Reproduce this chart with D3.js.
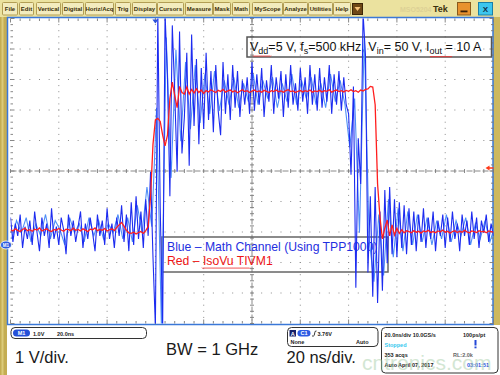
<!DOCTYPE html>
<html>
<meta charset="utf-8">
<style>
body { margin: 0; background: #fff; }
svg { display: block; font-family: "Liberation Sans", Arial, sans-serif; }
.menu text { font-size: 6px; font-weight: bold; fill: #3b2f08; text-anchor: middle; }
.info text { font-size: 5.5px; font-weight: bold; fill: #222; }
.big { font-size: 16.5px; fill: #1a1a1a; }
</style>
<body>
<svg id="scope" width="500" height="375"></svg>
<script src="https://d3js.org/d3.v7.min.js"></script>
<script>
// scope settings
var nsPerDiv = 20, voltsPerDiv = 1;
var groundDiv = 2.574;          // M1 ground marker, divisions above the bottom
var sampleNs = 1;               // record spacing of M1 (dark) and IsoVu
var lightStartNs = 0.5, lightStepNs = 2;
var trigPosNs = 60;
var trigLevelDiv = 5.1;

// IsoVu TIVM1 (red), volts, one sample per ns
var isoVu = [0.50,0.46,0.53,0.48,0.44,0.51,0.55,0.47,0.50,0.45,
  0.52,0.49,0.56,0.46,0.50,0.53,0.47,0.44,0.51,0.48,
  0.54,0.49,0.45,0.52,0.50,0.47,0.55,0.48,0.51,0.46,
  0.53,0.49,0.44,0.52,0.50,0.56,0.47,0.51,0.48,0.54,
  0.46,0.50,0.53,0.47,0.58,0.66,0.74,0.62,0.48,0.40,
  0.38,0.42,0.36,0.41,0.44,0.38,0.47,0.60,1.60,3.30,
  4.10,4.15,4.05,3.60,3.25,3.60,4.80,5.34,4.90,4.50,
  5.20,5.00,4.95,5.18,4.95,5.10,4.98,5.12,5.00,5.08,
  4.97,5.06,5.02,5.09,5.04,5.00,5.07,5.03,5.10,5.01,
  5.05,5.08,5.02,5.06,4.99,5.04,5.09,5.03,5.06,5.00,
  5.05,5.08,5.02,5.05,5.01,5.07,5.04,5.00,5.06,5.03,
  5.08,5.02,5.05,5.01,5.06,5.09,5.03,5.05,5.00,5.04,
  5.07,5.02,5.06,5.03,5.08,5.01,5.05,5.03,5.07,5.02,
  5.06,5.04,5.09,5.01,5.05,5.08,5.03,5.06,5.02,5.07,
  5.04,5.09,5.03,5.06,5.01,5.08,5.05,5.10,5.12,5.20,
  5.18,4.60,2.00,0.90,0.20,0.55,0.82,0.30,0.66,0.33,
  0.55,0.38,0.50,0.40,0.47,0.44,0.40,0.47,0.42,0.45,
  0.39,0.46,0.43,0.48,0.41,0.44,0.40,0.46,0.43,0.49,
  0.42,0.45,0.39,0.44,0.47,0.41,0.45,0.42,0.48,0.43,
  0.40,0.46,0.44,0.41,0.47,0.43,0.45,0.40,0.46,0.44,
  0.42];

// Math channel M1 (blue), volts, one sample per ns
var mathDark = [0.9,0.1,0.7,0.3,1.0,-0.1,0.6,0.2,0.8,0.0,
  1.1,0.4,-0.2,0.9,0.3,0.7,-0.1,1.2,0.2,0.6,
  0.0,0.9,0.5,-0.3,1.0,0.3,0.8,0.1,0.6,1.1,
  -0.1,0.7,0.2,0.9,0.4,-0.2,1.0,0.3,0.8,0.0,
  1.2,0.2,0.7,-0.1,0.9,0.3,1.3,0.1,1.0,-0.2,
  1.4,0.0,1.6,0.2,1.1,-0.1,1.5,0.3,2.4,-0.4,
  -2.7,7.6,1.2,-2.7,7.6,5.5,1.6,7.2,5.0,2.4,
  7.0,3.0,4.2,6.3,2.6,6.9,3.9,6.1,3.3,5.8,
  3.8,6.3,4.1,5.7,3.7,5.9,4.4,3.6,6.0,4.3,
  5.6,4.1,5.9,4.5,5.7,4.2,5.4,4.6,5.5,4.3,
  6.0,4.4,5.6,4.6,5.8,4.2,5.4,4.7,5.9,4.3,
  5.5,4.8,5.7,4.2,5.6,4.5,5.9,4.6,5.3,4.4,
  5.8,4.7,5.5,4.3,5.9,4.6,5.6,4.4,5.8,4.5,
  5.5,4.7,5.9,4.3,5.6,4.6,5.7,4.4,5.5,4.6,
  4.3,2.3,5.2,-1.4,3.5,2.0,7.6,6.2,-0.9,1.6,
  -1.7,1.9,-1.9,1.1,-1.5,1.8,-0.6,1.9,-0.3,1.5,
  -0.4,1.4,-0.1,1.3,-0.3,1.2,0.0,1.1,-0.2,1.0,
  0.1,1.2,-0.1,0.9,0.2,1.1,-0.2,0.8,0.3,1.0,
  -0.1,0.9,0.1,1.1,0.2,0.7,-0.2,1.0,0.3,0.8,
  0.0,1.1,0.2,0.9,-0.1,0.8,0.4,1.0,0.1,0.7,
  0.3];

// second M1 acquisition (light blue), volts, one sample per 2 ns
var mathLight = [0.2,0.8,0.4,0.9,0.1,0.7,0.3,1.0,0.2,0.8,
  0.5,0.0,0.9,0.4,0.7,0.1,0.9,0.3,0.8,0.2,
  0.7,0.4,1.0,0.2,0.9,0.1,1.3,0.4,1.9,0.6,
  4.5,-2.7,6.8,2.2,6.4,3.4,6.0,3.8,5.9,4.0,
  5.6,4.3,5.7,4.4,5.4,4.6,5.5,4.5,5.3,4.7,
  5.6,4.6,5.4,4.8,5.5,4.5,5.3,4.7,5.6,4.6,
  5.4,4.8,5.5,4.6,5.3,4.5,5.6,4.7,5.4,4.6,
  3.2,4.8,0.4,6.8,0.2,-1.2,1.0,-1.0,1.5,-0.4,
  1.2,-0.2,1.1,0.0,1.0,0.1,0.9,0.0,0.8,0.2,
  1.0,0.1,0.8,0.3,0.9,0.0,0.7,0.2,0.8,0.1,
  0.6];

var menuLabels = ["File","Edit","Vertical","Digital","Horiz/Acq","Trig","Display","Cursors",
  "Measure","Mask","Math","MyScope","Analyze","Utilities","Help"];
var menuLeft  = [2,19,36,62,85,115,132,157,185,213,232,252,283,308,333];
var menuRight = [17,33,60,83,113,130,156,183,212,230,249,282,307,332,350];

var svg = d3.select("#scope");

var gx = d3.scaleLinear().domain([0, 10]).range([10.5, 493.5]);
var gy = d3.scaleLinear().domain([0, 10]).range([323.5, 18.5]);
var x = d3.scaleLinear().domain([0, 10 * nsPerDiv]).range(gx.range());
var y = d3.scaleLinear()
	.domain([-groundDiv * voltsPerDiv, (10 - groundDiv) * voltsPerDiv])
	.range(gy.range());

// window chrome
svg.append("rect").attr("width", 500).attr("height", 375).attr("fill", "#fff");
svg.append("rect").attr("width", 500).attr("height", 17.5).attr("fill", "#ebe29f");
svg.append("rect").attr("x", 0).attr("y", 17).attr("width", 7).attr("height", 358).attr("fill", "#c4ad52");
svg.append("rect").attr("x", 1.5).attr("y", 17).attr("width", 2).attr("height", 358).attr("fill", "#dccb7a");
svg.append("rect").attr("x", 493).attr("y", 17).attr("width", 7).attr("height", 308).attr("fill", "#cdb85e");

var menu = svg.append("g").attr("class", "menu");
menuLabels.forEach(function(m, i) {
	menu.append("rect")
		.attr("x", menuLeft[i] + 0.5).attr("y", 2.5)
		.attr("width", menuRight[i] - menuLeft[i]).attr("height", 12.5)
		.attr("rx", 1).attr("fill", "#f3ecbe").attr("stroke", "#b29e55");
	menu.append("text")
		.attr("x", (menuLeft[i] + menuRight[i]) / 2 + 0.5).attr("y", 11)
		.text(m);
});
svg.append("rect").attr("x", 352.5).attr("y", 3.5).attr("width", 10).attr("height", 11)
	.attr("fill", "#6e4816").attr("stroke", "#3d2708");
svg.append("path").attr("d", "M354.5,7 h6 l-3,4 z").attr("fill", "#f7c27a");
svg.append("text").attr("x", 400).attr("y", 11.5).attr("font-size", 7).attr("font-weight", "bold")
	.attr("fill", "#ddd196").text("MSO5204");
svg.append("text").attr("x", 433).attr("y", 12).attr("font-size", 9).attr("font-weight", "bold")
	.attr("fill", "#3a3010").text("Tek");
svg.append("rect").attr("x", 457.5).attr("y", 2.5).attr("width", 13).attr("height", 12.5)
	.attr("fill", "#e8922e").attr("stroke", "#8a5a1c");
svg.append("rect").attr("x", 460.5).attr("y", 10.5).attr("width", 7).attr("height", 1.8).attr("fill", "#3a2008");
svg.append("rect").attr("x", 478.5).attr("y", 2.5).attr("width", 14).attr("height", 12.5)
	.attr("fill", "#3cc6ee").attr("stroke", "#1a7fa8");
svg.append("text").attr("x", 485.5).attr("y", 12).attr("font-size", 8).attr("font-weight", "bold")
	.attr("text-anchor", "middle").attr("fill", "#10304a").text("X");

// graticule
var grat = svg.append("g");
grat.append("rect").attr("x", 7.5).attr("y", 17.5).attr("width", 485.5).attr("height", 307)
	.attr("fill", "#fff").attr("stroke", "#3a78d8").attr("stroke-width", 1.5);

var minor = d3.range(0, 10.001, 0.2);
var majors = [1, 2, 3, 4, 6, 7, 8, 9];
majors.forEach(function(k) {
	grat.selectAll(null).data(minor).enter().append("rect")
		.attr("x", gx(k) - 0.5).attr("y", function(d) { return gy(d) - 0.5; })
		.attr("width", 1).attr("height", 1).attr("fill", "#8c8c8c");
	grat.selectAll(null).data(minor).enter().append("rect")
		.attr("x", function(d) { return gx(d) - 0.5; }).attr("y", gy(k) - 0.5)
		.attr("width", 1).attr("height", 1).attr("fill", "#8c8c8c");
});
grat.append("line").attr("x1", gx(5)).attr("x2", gx(5)).attr("y1", gy(10)).attr("y2", gy(0))
	.attr("stroke", "#8a8a8a").attr("stroke-dasharray", "6,2");
grat.append("line").attr("x1", gx(0)).attr("x2", gx(10)).attr("y1", gy(5)).attr("y2", gy(5))
	.attr("stroke", "#8a8a8a").attr("stroke-dasharray", "6,2");

function tickLen(d) { return Math.abs(d - Math.round(d)) < 0.01 ? 4 : 2.5; }
grat.selectAll(null).data(minor).enter().append("path")
	.attr("d", function(d) {
		var xx = gx(d), yy = gy(d), c = tickLen(d);
		return "M" + xx + "," + gy(10) + "v" + c +
			"M" + xx + "," + gy(0) + "v" + (-c) +
			"M" + gx(0) + "," + yy + "h" + c +
			"M" + gx(10) + "," + yy + "h" + (-c) +
			"M" + xx + "," + (gy(5) - 2) + "v4" +
			"M" + (gx(5) - 2) + "," + yy + "h4";
	})
	.attr("stroke", "#7a7a7a").attr("stroke-width", 0.9).attr("fill", "none");

// annotation boxes
var noteA = svg.append("g");
noteA.append("rect").attr("x", 247).attr("y", 37).attr("width", 244.5).attr("height", 20)
	.attr("fill", "none").attr("stroke", "#555").attr("stroke-width", 1.5);
var ta = noteA.append("text").attr("x", 250).attr("y", 50.7).attr("font-size", 12.5).attr("fill", "#111");
[["V", 0], ["dd", 1], ["=5 V, f", -1], ["s", 1], ["=500 kHz, V", -1], ["in", 1],
 ["= 50 V, I", -1], ["out", 1], [" = 10 A", -1]].forEach(function(p) {
	var t = ta.append("tspan").text(p[0]);
	if (p[1] === 1) t.attr("font-size", 9).attr("dy", 3);
	if (p[1] === -1) t.attr("dy", -3);
});

function squiggle(x0, x1, yb) {
	var p = "M" + x0 + "," + yb;
	for (var xx = x0; xx < x1; xx += 2) p += "l1,1.2l1,-1.2";
	return p;
}
[[253, 271, 55.5], [430, 452, 56], [202, 250, 267.5]].forEach(function(s) {
	svg.append("path").attr("d", squiggle(s[0], s[1], s[2]))
		.attr("stroke", "#e33").attr("stroke-width", 0.8).attr("fill", "none");
});

var noteB = svg.append("g");
noteB.append("rect").attr("x", 162).attr("y", 237).attr("width", 226).attr("height", 35)
	.attr("fill", "none").attr("stroke", "#666").attr("stroke-width", 1.5);
noteB.append("text").attr("x", 167).attr("y", 251).attr("font-size", 12.2).attr("fill", "#1f2fe0")
	.text("Blue \u2013 Math Channel (Using TPP1000)");
noteB.append("text").attr("x", 167).attr("y", 265).attr("font-size", 12.2).attr("fill", "#ee1515")
	.text("Red \u2013 IsoVu TIVM1");

// traces
svg.append("clipPath").attr("id", "clip").append("rect")
	.attr("x", gx(0)).attr("y", gy(10)).attr("width", gx(10) - gx(0)).attr("height", gy(0) - gy(10));
var traces = svg.append("g").attr("clip-path", "url(#clip)").attr("fill", "none");

var lineFixed = d3.line().x(function(d, i) { return x(i * sampleNs); }).y(function(d) { return y(d); });
var lineLight = d3.line().x(function(d, i) { return x(lightStartNs + i * lightStepNs); }).y(function(d) { return y(d); });

traces.append("path").datum(mathLight).attr("d", lineLight)
	.attr("stroke", "#4f8ff7").attr("stroke-width", 1.1);
traces.append("path").datum(mathDark).attr("d", lineFixed)
	.attr("stroke", "#1d2cf0").attr("stroke-width", 1.1);
traces.append("path").datum(isoVu).attr("d", lineFixed)
	.attr("stroke", "#ff1e1e").attr("stroke-width", 1.3);

// markers
svg.append("path").attr("d", "M" + (x(trigPosNs) - 3) + "," + (gy(10) + 1) + "h6l-3,4z").attr("fill", "#2a50d8");
svg.append("path").attr("d", "M" + (gx(10) - 8) + "," + gy(trigLevelDiv) + "l4,-2.5v1.7h4v1.6h-4v1.7z").attr("fill", "#ff3a1a");
svg.append("ellipse").attr("cx", 6).attr("cy", y(0)).attr("rx", 5.5).attr("ry", 4)
	.attr("fill", "#2a5be0").attr("stroke", "#fff").attr("stroke-width", 0.8);
svg.append("text").attr("x", 6).attr("y", y(0) + 1.6).attr("font-size", 4.5).attr("font-weight", "bold")
	.attr("text-anchor", "middle").attr("fill", "#fff").text("M1");

// bottom readouts
var info = svg.append("g").attr("class", "info");
info.append("rect").attr("x", 11).attr("y", 327.5).attr("width", 135.5).attr("height", 11).attr("rx", 4)
	.attr("fill", "#fff").attr("stroke", "#333");
info.append("rect").attr("x", 13).attr("y", 329.5).attr("width", 17).attr("height", 7).attr("rx", 3.5).attr("fill", "#2550d8");
info.append("text").attr("x", 21.5).attr("y", 335).attr("text-anchor", "middle").style("fill", "#fff").text("M1");
info.append("text").attr("x", 33).attr("y", 335.5).text("1.0V");
info.append("text").attr("x", 57).attr("y", 335.5).text("20.0ns");

info.append("rect").attr("x", 287.5).attr("y", 327.5).attr("width", 90.5).attr("height", 19).attr("rx", 4)
	.attr("fill", "#fff").attr("stroke", "#333");
info.append("rect").attr("x", 289.5).attr("y", 330).attr("width", 6.5).attr("height", 6.5).attr("fill", "#16206a");
info.append("text").attr("x", 290.8).attr("y", 335.5).style("fill", "#fff").text("A");
info.append("rect").attr("x", 297.5).attr("y", 330).attr("width", 13).attr("height", 6.5).attr("rx", 3.2).attr("fill", "#2d5be3");
info.append("text").attr("x", 300.5).attr("y", 335.3).style("fill", "#fff").text("C1");
info.append("path").attr("d", "M312,336 h1.5 q0.8,0 1,-2 t1,-3 h1").attr("stroke", "#222").attr("stroke-width", 0.9).attr("fill", "none");
info.append("text").attr("x", 317.5).attr("y", 335.5).text("3.76V");
info.append("text").attr("x", 290.5).attr("y", 344).text("None");
info.append("text").attr("x", 356).attr("y", 344).text("Auto");

info.append("rect").attr("x", 381.5).attr("y", 327.5).attr("width", 116.5).attr("height", 45.5).attr("rx", 4)
	.attr("fill", "#fff").attr("stroke", "#333");
info.append("text").attr("x", 384.5).attr("y", 336.5).text("20.0ns/div  10.0GS/s");
info.append("text").attr("x", 463).attr("y", 336.5).text("100ps/pt");
info.append("text").attr("x", 384.5).attr("y", 347).style("fill", "#35c8ee").text("Stopped");
info.append("rect").attr("x", 474.5).attr("y", 340).attr("width", 2).attr("height", 5.5).attr("fill", "#2448d8");
info.append("rect").attr("x", 474.5).attr("y", 346.5).attr("width", 2).attr("height", 1.8).attr("fill", "#2448d8");
info.append("text").attr("x", 384.5).attr("y", 357).text("353 acqs");
info.append("text").attr("x", 453).attr("y", 357).style("fill", "#666").text("RL:2.0k");
info.append("text").attr("x", 384.5).attr("y", 367).text("Auto");
info.append("text").attr("x", 398).attr("y", 367).text("April 07, 2017");
info.append("text").attr("x", 467).attr("y", 367).style("fill", "#2a55dd").text("03:01:51");

// faint site watermark over the readout
svg.append("text").attr("x", 362).attr("y", 369.5).attr("font-size", 21)
	.attr("fill", "#a9cfa9").attr("opacity", 0.5).text("cntronics.com");

svg.append("text").attr("class", "big").attr("x", 15).attr("y", 362.5).text("1 V/div.");
svg.append("text").attr("class", "big").attr("x", 166).attr("y", 355).text("BW = 1 GHz");
svg.append("text").attr("class", "big").attr("x", 286.5).attr("y", 362.5).text("20 ns/div.");
</script>
</body>
</html>
